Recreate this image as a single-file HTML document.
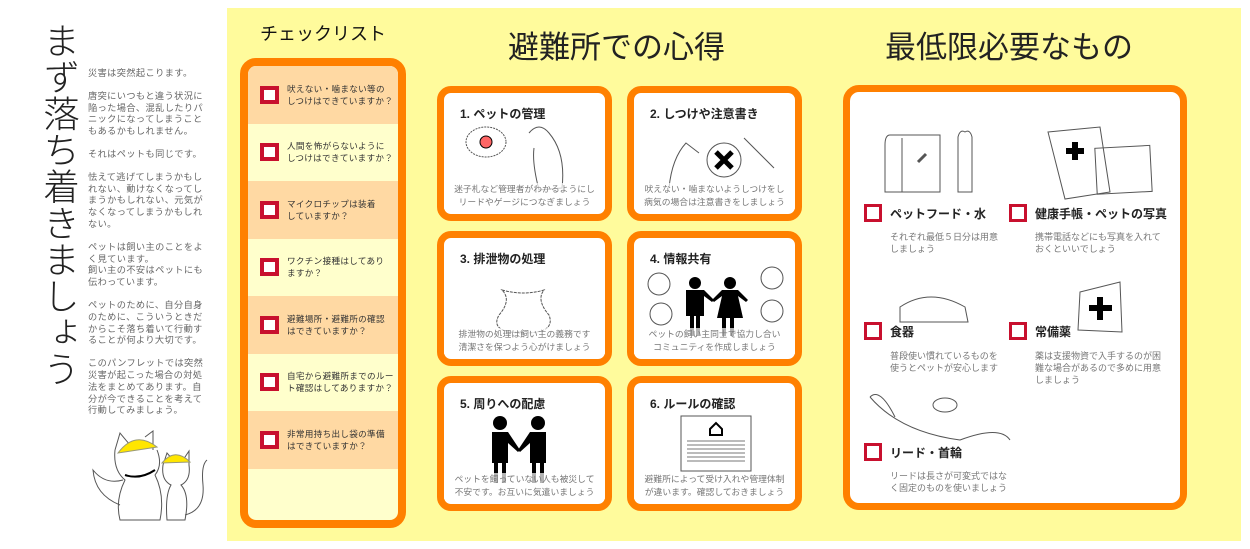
<!DOCTYPE html>
<html><head><meta charset="utf-8">
<style>
*{margin:0;padding:0;box-sizing:border-box}
body{width:1250px;height:549px;background:#fff;position:relative;overflow:hidden;font-family:"Liberation Sans","Noto Sans CJK JP",sans-serif;color:#222}
.abs{position:absolute}
#yel{left:227px;top:8px;width:1014px;height:533px;background:#fffb9c}
#vt{left:38px;top:22px;writing-mode:vertical-rl;font-size:36.5px;font-weight:300;color:#222;line-height:40px}
#intro{left:88px;top:68px;width:118px;font-size:9.2px;line-height:11.8px;color:#666;letter-spacing:0.4px}
#intro p{margin-bottom:11px}
.h{font-size:18px;color:#111}
#chk{left:240px;top:58px;width:166px;height:470px;border:8px solid #ff8000;border-radius:16px;background:#ffffcc;overflow:hidden}
.row{height:57.5px;display:flex;align-items:center;padding-left:12px;font-size:8.6px;line-height:12px;color:#333;white-space:nowrap;letter-spacing:0.3px}
.row:nth-child(odd){background:#ffd9a3}
.cb{width:19px;height:18px;border:4px solid #c8102e;background:#fff;flex:none;margin-right:8px}
.card{width:175px;height:135px;border:7px solid #ff8000;border-radius:14px;background:#fff}
.card h3{position:absolute;left:16px;top:12px;font-size:12px;font-weight:bold}
.card p{position:absolute;left:0;right:0;bottom:5px;font-size:8.8px;line-height:13px;color:#777;text-align:center;white-space:nowrap;background:rgba(255,255,255,.7)}
.card svg{position:absolute;left:0;top:0}
#need{left:843px;top:85px;width:344px;height:425px;border:7px solid #ff8000;border-radius:16px;background:#fff}
.it{position:absolute;font-size:12px;font-weight:bold;display:flex;align-items:center;white-space:nowrap}
.it .cb{width:18px;height:18px;border-width:3px;margin-right:8px}
.ds{position:absolute;font-size:9px;line-height:12px;color:#777;white-space:nowrap}
</style></head><body>
<div id="yel" class="abs"></div>
<div id="vt" class="abs">まず落ち着きましょう</div>
<div id="intro" class="abs">
<p>災害は突然起こります。</p>
<p>唐突にいつもと違う状況に陥った場合、混乱したりパニックになってしまうこともあるかもしれません。</p>
<p>それはペットも同じです。</p>
<p>怯えて逃げてしまうかもしれない、動けなくなってしまうかもしれない、元気がなくなってしまうかもしれない。</p>
<p>ペットは飼い主のことをよく見ています。<br>飼い主の不安はペットにも伝わっています。</p>
<p>ペットのために、自分自身のために、こういうときだからこそ落ち着いて行動することが何より大切です。</p>
<p>このパンフレットでは突然災害が起こった場合の対処法をまとめてあります。自分が今できることを考えて行動してみましょう。</p>
</div>
<svg class="abs" style="left:85px;top:425px" width="130" height="100" fill="none" stroke="#555" stroke-width="1">
<path d="M30 25 L35 8 L45 20 M60 12 L68 6 L68 25"/>
<path d="M30 25 Q28 45 40 55 Q30 75 35 95 L75 95 Q80 70 70 50 Q78 40 72 25"/>
<path d="M38 55 Q20 60 8 45 Q10 70 35 80"/>
<path d="M33 28 Q50 5 72 22 Z" fill="#ffe600" stroke="#997"/>
<path d="M40 50 Q55 55 70 45" stroke="#000" stroke-width="2"/>
<path d="M78 40 L82 28 L88 35 L98 35 L104 26 L104 40 Q106 55 96 60 Q105 70 100 95 L82 95 Q80 70 86 60 Q76 55 78 40"/>
<path d="M77 38 Q90 22 105 37 Z" fill="#ffe600" stroke="#997"/>
<path d="M100 90 Q120 85 118 60 Q116 40 122 35"/>
</svg>

<div class="abs h" style="left:260px;top:20px">チェックリスト</div>
<div class="abs" style="left:508px;top:22px;font-size:31px">避難所での心得</div>
<div class="abs" style="left:885px;top:22px;font-size:31px">最低限必要なもの</div>

<div id="chk" class="abs">
<div class="row"><div class="cb"></div><div>吠えない・噛まない等の<br>しつけはできていますか？</div></div>
<div class="row"><div class="cb"></div><div>人間を怖がらないように<br>しつけはできていますか？</div></div>
<div class="row"><div class="cb"></div><div>マイクロチップは装着<br>していますか？</div></div>
<div class="row"><div class="cb"></div><div>ワクチン接種はしてあり<br>ますか？</div></div>
<div class="row"><div class="cb"></div><div>避難場所・避難所の確認<br>はできていますか？</div></div>
<div class="row"><div class="cb"></div><div>自宅から避難所までのルー<br>ト確認はしてありますか？</div></div>
<div class="row"><div class="cb"></div><div>非常用持ち出し袋の準備<br>はできていますか？</div></div>
</div>

<div class="abs card" style="left:437px;top:86px"><h3>1. ペットの管理</h3>
<svg width="160" height="100"><ellipse cx="42" cy="49" rx="20" ry="15" stroke="#555" fill="none" stroke-dasharray="2 1"/><circle cx="42" cy="49" r="6" fill="#f66" stroke="#000"/><path d="M85 40 Q95 28 105 40 Q122 60 118 95 L95 97 Q88 70 90 55" stroke="#555" fill="none"/></svg>
<p>迷子札など管理者がわかるようにし<br>リードやゲージにつなぎましょう</p></div>
<div class="abs card" style="left:627px;top:86px"><h3>2. しつけや注意書き</h3>
<svg width="160" height="100"><circle cx="90" cy="67" r="17" fill="none" stroke="#555"/><path d="M82 59 L98 75 M98 59 L82 75" stroke="#000" stroke-width="5"/><path d="M35 95 Q38 65 52 50 L65 60 M110 45 L140 75" stroke="#555" fill="none"/></svg>
<p>吠えない・噛まないようしつけをし<br>病気の場合は注意書きをしましょう</p></div>
<div class="abs card" style="left:437px;top:231px"><h3>3. 排泄物の処理</h3>
<svg width="160" height="100"><path d="M58 52 Q80 58 100 52 Q92 62 105 77 Q112 95 80 95 Q45 95 55 77 Q68 62 58 52Z" fill="none" stroke="#555" stroke-dasharray="3 1"/></svg>
<p>排泄物の処理は飼い主の義務です<br>清潔さを保つよう心がけましょう</p></div>
<div class="abs card" style="left:627px;top:231px"><h3>4. 情報共有</h3>
<svg width="160" height="100" fill="#000"><circle cx="61" cy="45" r="6"/><path d="M52 52 H70 L80 62 L78 64 L70 58 V78 H66 V98 H62 V78 H60 V98 H56 V78 H52Z"/><circle cx="96" cy="45" r="6"/><path d="M88 52 H104 L114 62 L112 64 L104 58 L109 80 H100 V98 H96 V80 H92 V98 H88 V80 H83 L88 58 L80 64 L78 62Z"/><g fill="none" stroke="#555"><circle cx="25" cy="46" r="11"/><circle cx="27" cy="76" r="11"/><circle cx="138" cy="40" r="11"/><circle cx="138" cy="73" r="11"/></g></svg>
<p>ペットの飼い主同士で協力し合い<br>コミュニティを作成しましょう</p></div>
<div class="abs card" style="left:437px;top:376px"><h3>5. 周りへの配慮</h3>
<svg width="160" height="100" fill="#000"><circle cx="56" cy="40" r="7"/><path d="M48 49 H64 L76 67 L74 69 L64 60 V80 H62 V100 H58 V80 H54 V100 H50 V80 H48Z"/><circle cx="94" cy="40" r="7"/><path d="M86 49 H102 V80 H100 V100 H96 V80 H92 V100 H88 V80 H86 V60 L76 69 L74 67Z"/></svg>
<p>ペットを飼っていない人も被災して<br>不安です。お互いに気遣いましょう</p></div>
<div class="abs card" style="left:627px;top:376px"><h3>6. ルールの確認</h3>
<svg width="160" height="100"><rect x="47" y="33" width="70" height="55" fill="#fff" stroke="#555"/><g stroke="#777"><path d="M53 58H111M53 62H111M53 66H111M53 70H111M53 74H111M53 78H111"/></g><path d="M76 46 L82 40 L88 46 V52 H76Z" fill="none" stroke="#000" stroke-width="2"/></svg>
<p>避難所によって受け入れや管理体制<br>が違います。確認しておきましょう</p></div>

<div id="need" class="abs">
<svg class="abs" style="left:0;top:0" width="330" height="410" fill="none" stroke="#555">
<path d="M40 43 H90 V100 H35 V53 Q35 43 40 43Z M52 46 V100"/><path d="M68 70 L76 62" stroke-width="3"/>
<path d="M108 45 Q110 37 115 40 Q120 37 122 45 V100 H108Z"/>
<path d="M198 40 L250 35 L260 100 L215 107Z"/><path d="M225 50 V68 M216 59 H234" stroke="#000" stroke-width="6"/>
<rect x="246" y="55" width="55" height="46" transform="rotate(-3 270 78)"/>
<path d="M50 215 Q80 195 115 215 L118 230 H50Z"/>
<path d="M230 200 L270 190 L272 240 L228 238Z"/><path d="M250 205 V228 M239 216 H262" stroke="#000" stroke-width="6"/>
<path d="M20 305 Q50 340 110 348 Q150 333 160 348 M20 305 Q30 295 45 325" /><ellipse cx="95" cy="313" rx="12" ry="7"/>
</svg>
<div class="it" style="left:14px;top:112px"><div class="cb"></div>ペットフード・水</div>
<div class="ds" style="left:40px;top:139px">それぞれ最低５日分は用意<br>しましょう</div>
<div class="it" style="left:159px;top:112px"><div class="cb"></div>健康手帳・ペットの写真</div>
<div class="ds" style="left:185px;top:139px">携帯電話などにも写真を入れて<br>おくといいでしょう</div>
<div class="it" style="left:14px;top:230px"><div class="cb"></div>食器</div>
<div class="ds" style="left:40px;top:258px">普段使い慣れているものを<br>使うとペットが安心します</div>
<div class="it" style="left:159px;top:230px"><div class="cb"></div>常備薬</div>
<div class="ds" style="left:185px;top:258px">薬は支援物資で入手するのが困<br>難な場合があるので多めに用意<br>しましょう</div>
<div class="it" style="left:14px;top:351px"><div class="cb"></div>リード・首輪</div>
<div class="ds" style="left:40px;top:378px">リードは長さが可変式ではな<br>く固定のものを使いましょう</div>
</div>
</body></html>
